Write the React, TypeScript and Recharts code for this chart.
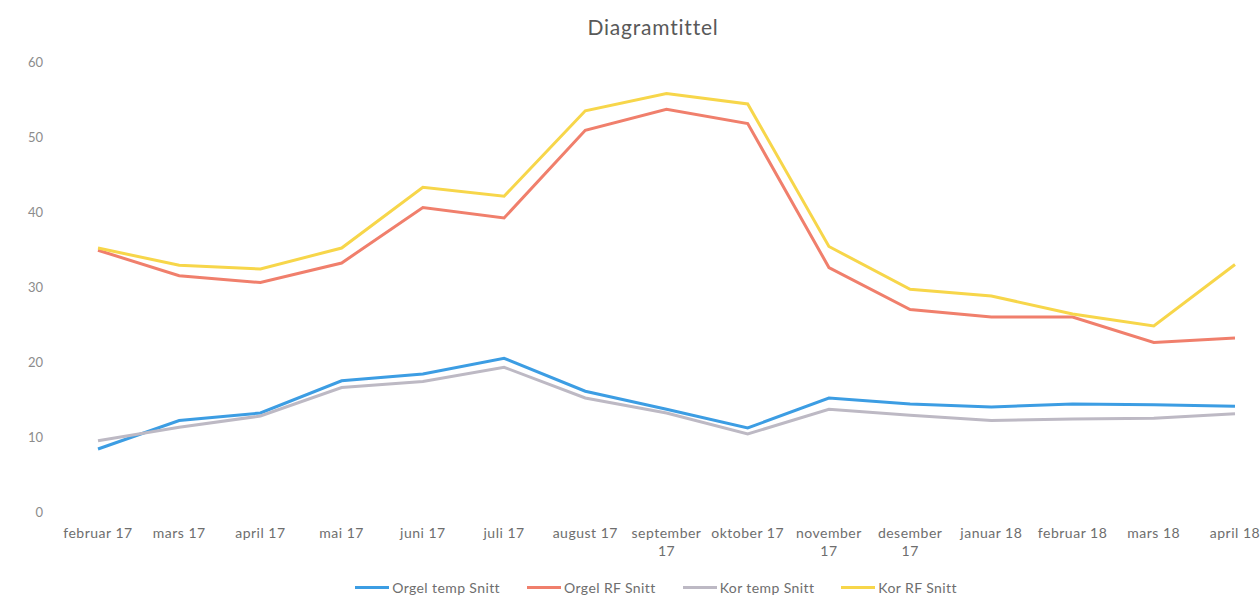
import React from 'react';
import { LineChart, Line, XAxis, YAxis, Legend } from 'recharts';

const MONTHS = [
  'februar 17', 'mars 17', 'april 17', 'mai 17', 'juni 17', 'juli 17', 'august 17',
  'september 17', 'oktober 17', 'november 17', 'desember 17', 'januar 18',
  'februar 18', 'mars 18', 'april 18',
];
const ORGEL_TEMP = [8.4, 12.2, 13.2, 17.5, 18.4, 20.5, 16.1, 13.7, 11.2, 15.2, 14.4, 14.0, 14.4, 14.3, 14.1];
const ORGEL_RF = [34.9, 31.5, 30.6, 33.2, 40.6, 39.2, 50.9, 53.7, 51.8, 32.6, 27.0, 26.0, 26.0, 22.6, 23.2];
const KOR_TEMP = [9.5, 11.3, 12.8, 16.6, 17.4, 19.3, 15.2, 13.2, 10.4, 13.7, 12.9, 12.2, 12.4, 12.5, 13.1];
const KOR_RF = [35.2, 32.9, 32.4, 35.2, 43.3, 42.1, 53.5, 55.8, 54.4, 35.4, 29.7, 28.8, 26.4, 24.8, 33.0];
const Y_TICKS = [0, 10, 20, 30, 40, 50, 60];

const SERIES = [
  { key: 'orgelTemp', name: 'Orgel temp Snitt', color: '#3c9de3' },
  { key: 'orgelRF', name: 'Orgel RF Snitt', color: '#f07f6c' },
  { key: 'korTemp', name: 'Kor temp Snitt', color: '#bdb9c4' },
  { key: 'korRF', name: 'Kor RF Snitt', color: '#f7d64a' },
];

const data = MONTHS.map((m, i) => ({
  month: m,
  orgelTemp: ORGEL_TEMP[i],
  orgelRF: ORGEL_RF[i],
  korTemp: KOR_TEMP[i],
  korRF: KOR_RF[i],
}));

const FONT = 'Lato, "Open Sans", sans-serif';

// long labels wrap onto two lines like the original
const MonthTick = (props: any) => {
  const { x, y, payload } = props;
  const label: string = payload.value;
  const lines = label.length > 10 ? label.split(' ') : [label];
  return (
    <text x={x} y={y} textAnchor="middle" fill="#6e6e6e" fontSize={14} letterSpacing={0.5} fontFamily={FONT}>
      {lines.map((l, i) => (
        <tspan key={i} x={x} dy={i === 0 ? 18 : 18}>{l}</tspan>
      ))}
    </text>
  );
};

const LegendContent = () => (
  <div style={{ display: 'flex', justifyContent: 'center', gap: 27, paddingLeft: 52, fontFamily: FONT, fontSize: 14, letterSpacing: 0.4, color: '#6e6e6e' }}>
    {SERIES.map((s) => (
      <div key={s.key} style={{ display: 'flex', alignItems: 'center' }}>
        <div style={{ width: 34, height: 3, background: s.color, marginRight: 3 }} />
        {s.name}
      </div>
    ))}
  </div>
);

export default function App() {
  return (
    <div style={{ position: 'absolute', left: 0, top: 0, width: 1260, height: 604, background: '#fff' }}>
      <div style={{ position: 'absolute', top: 14, left: 553, width: 200, textAlign: 'center', fontFamily: FONT, fontSize: 21, color: '#595959', letterSpacing: 0.8 }}>
        Diagramtittel
      </div>
      <LineChart width={1260} height={604} data={data} margin={{ top: 62, right: 25, left: 0, bottom: 1 }}>
        <XAxis
          dataKey="month"
          axisLine={false}
          tickLine={false}
          tick={<MonthTick />}
          interval={0}
          height={67}
        />
        <YAxis
          domain={[0, 60]}
          ticks={Y_TICKS}
          axisLine={false}
          tickLine={false}
          tickSize={0}
          tickMargin={55}
          width={98}
          tick={{ fill: '#8c8c8c', fontSize: 13, fontFamily: FONT }}
        />
        <Legend
          verticalAlign="bottom"
          height={24}
          wrapperStyle={{ left: 0, width: 1260 }}
          content={<LegendContent />}
        />
        {SERIES.map((s) => (
          <Line
            key={s.key}
            type="linear"
            dataKey={s.key}
            name={s.name}
            stroke={s.color}
            strokeWidth={3}
            dot={false}
            isAnimationActive={false}
          />
        ))}
      </LineChart>
    </div>
  );
}
